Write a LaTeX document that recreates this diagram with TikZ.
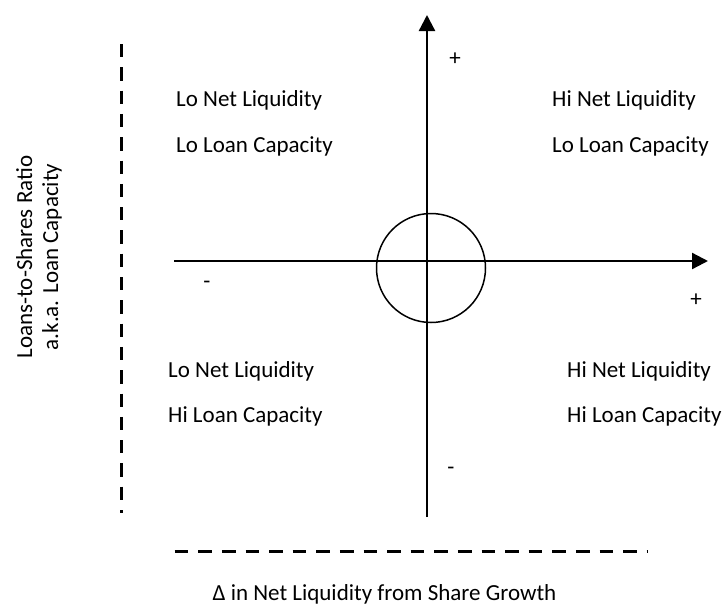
\documentclass[tikz,border=0pt]{standalone}
\usepackage{fontspec}
\setmainfont{Carlito}
\usetikzlibrary{arrows.meta}
\begin{document}
\begin{tikzpicture}[x=1pt,y=-1pt,
  lbl/.style={anchor=base west,inner sep=0pt,font=\fontsize{23}{27}\selectfont},
  sgn/.style={inner sep=0pt,font=\fontsize{23}{27}\selectfont},
  axis/.style={line width=2.3pt,-{Triangle[length=16pt,width=16pt]}},
  dashline/.style={line width=3pt,dash pattern=on 13.3pt off 10pt}]
\useasboundingbox (0,0) rectangle (728,606);
% axes
\coordinate (vb) at (427,517);
\coordinate (vt) at (427,15);
\coordinate (hl) at (174,261);
\coordinate (hr) at (708,261);
\draw[axis] (vb) -- (vt);
\draw[axis] (hl) -- (hr);
\node[draw,circle,line width=1.5pt,minimum size=109pt,inner sep=0pt] (c) at (431,268) {};
% dashed lines
\coordinate (da) at (121.7,44);
\coordinate (db) at (121.7,513);
\draw[dashline] (da) -- (db);
\coordinate (dc) at (174.7,551.7);
\coordinate (dd) at (648,551.7);
\draw[dashline,dash pattern=on 13.6pt off 10pt] (dc) -- (dd);
% quadrant labels
\node[lbl] (q1a) at (176,106) {Lo Net Liquidity};
\node[lbl] (q1b) at (176,152.7) {Lo Loan Capacity};
\node[lbl] (q2a) at (552,106) {Hi Net Liquidity};
\node[lbl] (q2b) at (552,152.7) {Lo Loan Capacity};
\node[lbl] (q3a) at (168,377) {Lo Net Liquidity};
\node[lbl] (q3b) at (168,422) {Hi Loan Capacity};
\node[lbl] (q4a) at (567,377) {Hi Net Liquidity};
\node[lbl] (q4b) at (567,422) {Hi Loan Capacity};
% signs
\node[sgn] (s1) at (455,59) {+};
\node[sgn] (s2) at (207,285) {-};
\node[sgn] (s3) at (696,300) {+};
\node[sgn] (s4) at (451,471) {-};
% axis titles
\node[lbl,anchor=base,rotate=90] (yt1) at (32,257) {Loans-to-Shares Ratio};
\node[lbl,anchor=base,rotate=90] (yt2) at (58,257) {a.k.a. Loan Capacity};
\node[lbl,anchor=base] (xt) at (384.5,600) {Δ in Net Liquidity from Share Growth};
\end{tikzpicture}
\end{document}
